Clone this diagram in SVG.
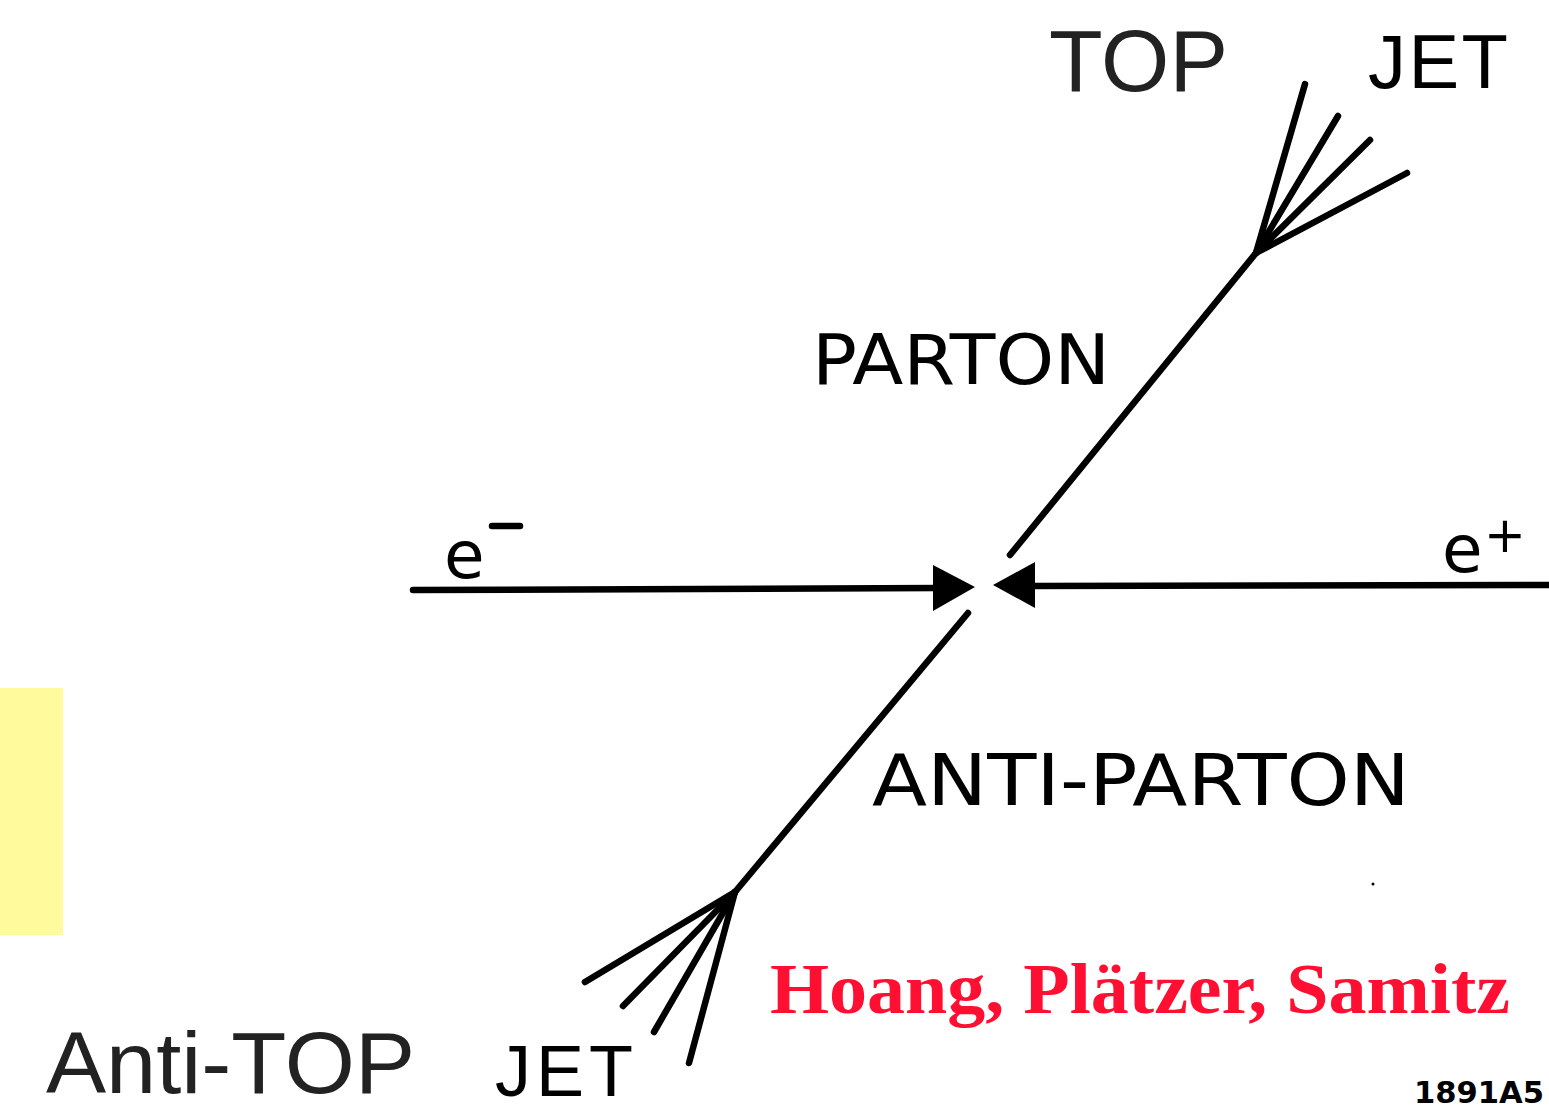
<svg xmlns="http://www.w3.org/2000/svg" width="1549" height="1113" viewBox="0 0 1549 1113">
<style>
.ln{stroke:#000;stroke-width:6.5;stroke-linecap:round;fill:none}
.hand{font-family:"DejaVu Sans","Liberation Sans",sans-serif;fill:#000}
.jet{font-family:"Liberation Sans",Arial,sans-serif;fill:#000}
.lbl{font-family:"Liberation Sans",Arial,sans-serif;fill:#222}
</style>
<rect width="1549" height="1113" fill="#fff"/>
<rect id="yellow" x="0" y="688" width="63" height="247" fill="#fffa9b"/>
<g id="connectors">
<line class="ln" x1="1010" y1="555" x2="1256" y2="253"/>
<line class="ln" x1="1256" y1="253" x2="1305" y2="84"/>
<line class="ln" x1="1256" y1="253" x2="1338" y2="116"/>
<line class="ln" x1="1256" y1="253" x2="1370" y2="140"/>
<line class="ln" x1="1256" y1="253" x2="1407" y2="173"/>
<line class="ln" x1="968" y1="613" x2="735" y2="892"/>
<line class="ln" x1="735" y1="892" x2="585" y2="982"/>
<line class="ln" x1="735" y1="892" x2="623" y2="1006"/>
<line class="ln" x1="735" y1="892" x2="654" y2="1032"/>
<line class="ln" x1="735" y1="892" x2="689" y2="1063"/>
<line class="ln" x1="413" y1="590" x2="940" y2="588"/>
<polygon points="933,565 975,587 933,611" fill="#000"/>
<line class="ln" x1="1030" y1="586" x2="1549" y2="585"/>
<polygon points="1035,562 993,585 1035,608" fill="#000"/>
</g>
<g id="n-top"><text class="lbl" x="1049" y="91" font-size="88" textLength="179" lengthAdjust="spacingAndGlyphs">TOP</text></g>
<g id="n-jet-top"><text class="jet" x="1368" y="88" font-size="76" textLength="140" lengthAdjust="spacing">JET</text></g>
<g id="n-parton"><text class="hand" x="812" y="384" font-size="70" textLength="298" lengthAdjust="spacingAndGlyphs">PARTON</text></g>
<g id="n-eminus"><text class="hand" x="444" y="578" font-size="66">e</text><line class="ln" x1="492" y1="526" x2="520" y2="526" stroke-width="5"/></g>
<g id="n-eplus"><text class="hand" x="1442" y="572" font-size="66">e</text><text class="hand" x="1484" y="552" font-size="50">+</text></g>
<g id="n-antiparton"><text class="hand" x="872" y="805" font-size="72" textLength="538" lengthAdjust="spacingAndGlyphs">ANTI-PARTON</text></g>
<g id="n-antitop"><text class="lbl" x="46" y="1093" font-size="88" textLength="369" lengthAdjust="spacingAndGlyphs">Anti-TOP</text></g>
<g id="n-jet-bottom"><text class="jet" x="495" y="1096" font-size="72" textLength="138" lengthAdjust="spacing">JET</text></g>
<g id="n-authors"><text x="770" y="1013" font-family="Liberation Serif,serif" font-weight="bold" font-size="72" fill="#ff1033" textLength="740" lengthAdjust="spacingAndGlyphs">Hoang, Plätzer, Samitz</text></g>
<g id="n-code"><text class="hand" x="1414" y="1103" font-size="30" font-weight="bold" textLength="130" lengthAdjust="spacingAndGlyphs">1891A5</text></g>
<circle cx="1373" cy="884" r="1.5" fill="#000"/>
</svg>
